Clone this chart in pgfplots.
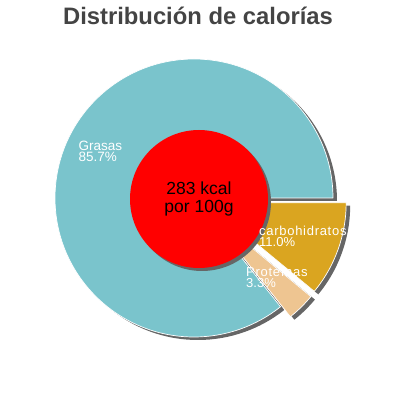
\documentclass[border=0pt]{standalone}
\usepackage{pgfplots}
\pgfplotsset{compat=1.18}
\usepackage{pgfplotstable}
\usepackage{fontspec}
\setmainfont{Liberation Sans}
\newfontfamily\spaced[LetterSpace=5.5]{Liberation Sans}
\definecolor{cgras}{RGB}{122,196,204}
\definecolor{ccarb}{RGB}{218,165,32}
\definecolor{cprot}{RGB}{238,197,145}
\definecolor{cshadow}{RGB}{102,102,102}
\definecolor{ctitle}{RGB}{68,68,68}

\pgfplotstableread{
name value
Grasas 85.7
Proteinas 3.3
Carbohidratos 11.0
}\kcaltable

\begin{document}
\begin{tikzpicture}
\pgfplotstablegetelem{0}{value}\of\kcaltable \let\vG\pgfplotsretval
\pgfplotstablegetelem{1}{value}\of\kcaltable \let\vP\pgfplotsretval
\pgfplotstablegetelem{2}{value}\of\kcaltable \let\vC\pgfplotsretval
\pgfmathsetmacro\aG{3.6*\vG}
\pgfmathsetmacro\aP{\aG+3.6*\vP}
\pgfmathsetmacro\aC{\aP+3.6*\vC}
\pgfmathsetmacro\mP{(\aG+\aP)/2}
\pgfmathsetmacro\mC{(\aP+\aC)/2}
\def\cx{194}\def\cy{202}\def\R{139}\def\ex{14}
\pgfmathsetmacro\pX{\cx+\ex*cos(\mP)}
\pgfmathsetmacro\pY{\cy+\ex*sin(\mP)}
\pgfmathsetmacro\qX{\cx+\ex*cos(\mC)}
\pgfmathsetmacro\qY{\cy+\ex*sin(\mC)}
\def\sx{4}\def\sy{-3}
\begin{axis}[x=1pt,y=1pt,xmin=0,xmax=400,ymin=0,ymax=400,hide axis,clip=false,
  scale only axis]
\addplot[draw=none] coordinates {(0,0) (400,400)};
\path (axis cs:0,0) rectangle (axis cs:400,400);
% shadows
\fill[cshadow] (axis cs:\cx+\sx,\cy+\sy) -- ++(0:\R pt) arc[start angle=0,end angle=\aG,radius=\R pt] -- cycle;
\fill[cshadow] (axis cs:\pX+\sx,\pY+\sy) -- ++(\aG:\R pt) arc[start angle=\aG,end angle=\aP,radius=\R pt] -- cycle;
\fill[cshadow] (axis cs:\qX+\sx,\qY+\sy) -- ++(\aP:\R pt) arc[start angle=\aP,end angle=\aC,radius=\R pt] -- cycle;
% slices
\filldraw[fill=cgras,draw=white,line width=0.7pt,line join=round] (axis cs:\cx,\cy) -- ++(0:\R pt) arc[start angle=0,end angle=\aG,radius=\R pt] -- cycle;
\filldraw[fill=cprot,draw=white,line width=0.7pt,line join=round] (axis cs:\pX,\pY) -- ++(\aG:\R pt) arc[start angle=\aG,end angle=\aP,radius=\R pt] -- cycle;
\filldraw[fill=ccarb,draw=white,line width=0.7pt,line join=round] (axis cs:\qX,\qY) -- ++(\aP:\R pt) arc[start angle=\aP,end angle=\aC,radius=\R pt] -- cycle;
% centre disc
\fill[cshadow] (axis cs:202,198) circle[radius=69pt];
\fill[red] (axis cs:199,201) circle[radius=69pt];
% texts
\node[anchor=base,inner sep=0,text=ctitle,font=\fontsize{23.8}{27}\selectfont\bfseries] at (axis cs:198,375) {Distribución de calorías};
\node[anchor=base,inner sep=0,font=\fontsize{17.5}{18}\selectfont] at (axis cs:199,205) {283 kcal};
\node[anchor=base,inner sep=0,font=\fontsize{17.5}{18}\selectfont] at (axis cs:199,187) {por 100g};
\node[anchor=base west,inner sep=0,text=white,font=\fontsize{13.5}{13}\selectfont] at (axis cs:78.5,249.5) {Grasas};
\node[anchor=base west,inner sep=0,text=white,font=\fontsize{13.5}{13}\selectfont] at (axis cs:78.5,238.5) {85.7\%};
\node[anchor=base west,inner sep=0,text=white,font=\spaced\fontsize{13}{13}\selectfont] at (axis cs:259,164.5) {carbohidratos};
\node[anchor=base west,inner sep=0,text=white,font=\fontsize{13}{13}\selectfont] at (axis cs:259,153.5) {11.0\%};
\node[anchor=base west,inner sep=0,text=white,font=\spaced\fontsize{13}{13}\selectfont] at (axis cs:246,124) {Proteínas};
\node[anchor=base west,inner sep=0,text=white,font=\fontsize{13}{13}\selectfont] at (axis cs:246,112.5) {3.3\%};
\end{axis}
\end{tikzpicture}
\end{document}
